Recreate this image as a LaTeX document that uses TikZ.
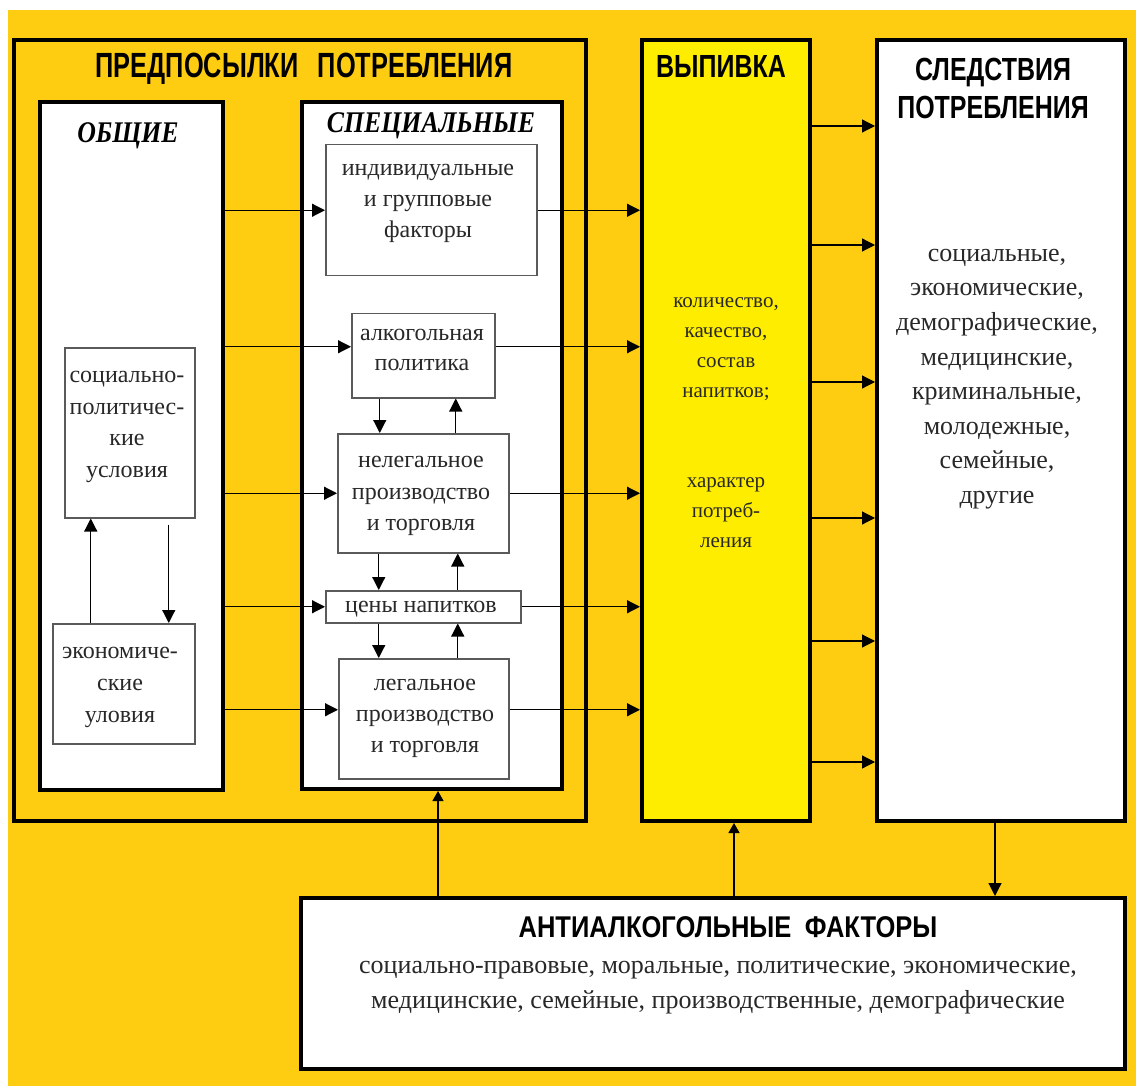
\documentclass[tikz,border=0pt]{standalone}
\usepackage{fontspec}
\setmainfont{Liberation Serif}
\newfontfamily\hfont[FakeStretch=0.78]{Liberation Sans}
\newfontfamily\tfont[FakeStretch=0.725]{Liberation Sans}
\newfontfamily\afont[FakeStretch=0.85]{Liberation Sans}
\newfontfamily\ifont[FakeStretch=0.86]{Liberation Serif}
\usetikzlibrary{arrows.meta}
\definecolor{bgyel}{RGB}{254,204,16}
\definecolor{vyel}{RGB}{255,237,0}
\definecolor{ibord}{RGB}{90,90,90}
\definecolor{tgray}{RGB}{40,40,40}
\newcommand\mytopstrut{\rule{0pt}{0.75em}}
\begin{document}
\begin{tikzpicture}[x=1pt,y=-1pt,
  tbox/.style={draw=black, line width=4pt, inner sep=0pt, anchor=north west},
  ibox/.style={draw=ibord, line width=1.5pt, fill=white, inner sep=0pt, anchor=north west},
  arr/.style={draw=black, line width=1.2pt, -{Triangle[length=13pt,width=13pt]}},
  sarr/.style={draw=black, line width=1.2pt, -{Triangle[length=10pt,width=11pt]}},
  txt/.style={anchor=north, align=center, inner sep=0pt, text=tgray},
  head/.style={anchor=base, inner sep=0pt, text=black},
  ]
\useasboundingbox (0,0) rectangle (1136,1086);
\fill[white] (0,0) rectangle (1136,1086);
\fill[bgyel] (8,10) rectangle (1136,1086);

% big frames
\node[tbox, minimum width=572pt, minimum height=781pt] (outer) at (12,38) {};
\node[tbox, fill=white, minimum width=183pt, minimum height=688pt] (obsh) at (38,100) {};
\node[tbox, fill=white, minimum width=260pt, minimum height=687pt] (spec) at (300,100) {};
\node[tbox, fill=vyel, minimum width=168pt, minimum height=781pt] (vyp) at (640,38) {};
\node[tbox, fill=white, minimum width=248pt, minimum height=781pt] (sled) at (875,38) {};
\node[tbox, fill=white, minimum width=824pt, minimum height=171pt] (anti) at (299,896) {};

% inner boxes
\node[ibox, minimum width=211pt, minimum height=131pt] (indiv) at (325,144) {};
\node[ibox, minimum width=143pt, minimum height=84pt] (alko) at (351,313) {};
\node[ibox, minimum width=171pt, minimum height=119pt] (neleg) at (337,433) {};
\node[ibox, minimum width=195pt, minimum height=32pt] (ceny) at (325,590) {};
\node[ibox, minimum width=170pt, minimum height=120pt] (leg) at (338,658) {};
\node[ibox, minimum width=130pt, minimum height=170pt] (socpol) at (64,347) {};
\node[ibox, minimum width=142pt, minimum height=120pt] (econ) at (52,623) {};

% offset connection points
\coordinate (alkoW) at ([yshift=9pt]alko.west);
\coordinate (alkoE) at ([yshift=9pt]alko.east);
\coordinate (legW) at ([yshift=9pt]leg.west);
\coordinate (legE) at ([yshift=9pt]leg.east);

% headings
\node[head, font=\tfont\bfseries\fontsize{35}{40}\selectfont] (tpred) at (304,78) {ПРЕДПОСЫЛКИ\hspace{0.55em}ПОТРЕБЛЕНИЯ};
\node[head, font=\ifont\bfseries\itshape\fontsize{30}{34}\selectfont] (tobsh) at (128,143) {ОБЩИЕ};
\node[head, font=\ifont\bfseries\itshape\fontsize{30}{34}\selectfont] (tspec) at (431,133) {СПЕЦИАЛЬНЫЕ};
\node[head, font=\hfont\bfseries\fontsize{32}{38}\selectfont] (tvyp) at (721,78) {ВЫПИВКА};
\node[txt, text=black, font=\hfont\bfseries\fontsize{32}{38}\selectfont] (tsled) at (993,56) {\mytopstrut СЛЕДСТВИЯ\\ПОТРЕБЛЕНИЯ};
\node[head, font=\afont\bfseries\fontsize{30}{34}\selectfont] (tanti) at (728,937) {АНТИАЛКОГОЛЬНЫЕ\hspace{0.45em}ФАКТОРЫ};

% body texts
\node[txt, font=\fontsize{24}{31}\selectfont] (xindiv) at (428,157.5) {\mytopstrut индивидуальные\\и групповые\\факторы};
\node[txt, font=\fontsize{24}{30}\selectfont] (xalko) at (422,322.5) {\mytopstrut алкогольная\\политика};
\node[txt, font=\fontsize{24}{31.5}\selectfont] (xneleg) at (421,449.5) {\mytopstrut нелегальное\\производство\\и торговля};
\node[txt, font=\fontsize{24}{31}\selectfont] (xceny) at (421,594.5) {\mytopstrut цены напитков};
\node[txt, font=\fontsize{24}{31}\selectfont] (xleg) at (425,672.5) {\mytopstrut легальное\\производство\\и торговля};
\node[txt, font=\fontsize{24}{31.5}\selectfont] (xsocpol) at (127,364.5) {\mytopstrut социально-\\политичес-\\кие\\условия};
\node[txt, font=\fontsize{24}{32}\selectfont] (xecon) at (120,640.5) {\mytopstrut экономиче-\\ские\\уловия};
\node[txt, font=\fontsize{21}{30}\selectfont] (xvyp1) at (726,292) {\mytopstrut количество,\\качество,\\состав\\напитков;};
\node[txt, font=\fontsize{21}{30}\selectfont] (xvyp2) at (726,472) {\mytopstrut характер\\потреб-\\ления};
\node[txt, font=\fontsize{26}{34.6}\selectfont] (xsled) at (997,241.5) {\mytopstrut социальные,\\экономические,\\демографические,\\медицинские,\\криминальные,\\молодежные,\\семейные,\\другие};
\node[txt, font=\fontsize{26}{35}\selectfont] (xanti) at (718,953.5) {\mytopstrut социально-правовые, моральные, политические, экономические,\\медицинские, семейные, производственные, демографические};

% horizontal arrows general -> special
\draw[arr] (obsh.east |- indiv.west) -- (indiv.west);
\draw[arr] (obsh.east |- alkoW) -- (alkoW);
\draw[arr] (obsh.east |- neleg.west) -- (neleg.west);
\draw[arr] (obsh.east |- ceny.west) -- (ceny.west);
\draw[arr] (obsh.east |- legW) -- (legW);

% special -> vypivka
\draw[arr] (indiv.east) -- (vyp.west |- indiv.east);
\draw[arr] (alkoE) -- (vyp.west |- alkoE);
\draw[arr] (neleg.east) -- (vyp.west |- neleg.east);
\draw[arr] (ceny.east) -- (vyp.west |- ceny.east);
\draw[arr] (legE) -- (vyp.west |- legE);

% vertical arrows inside special
\draw[arr] ([xshift=-43.5pt]alko.south) -- ([xshift=-43.5pt]alko.south |- neleg.north);
\draw[arr] ([xshift=32.5pt]alko.south |- neleg.north) -- ([xshift=32.5pt]alko.south);
\draw[arr] ([xshift=-44.5pt]neleg.south) -- ([xshift=-44.5pt]neleg.south |- ceny.north);
\draw[arr] ([xshift=34.5pt]neleg.south |- ceny.north) -- ([xshift=34.5pt]neleg.south);
\draw[arr] ([xshift=-44.5pt]ceny.south) -- ([xshift=-44.5pt]ceny.south |- leg.north);
\draw[arr] ([xshift=34.5pt]ceny.south |- leg.north) -- ([xshift=34.5pt]ceny.south);

% general: econ <-> socpol
\draw[arr] ([xshift=-33pt]econ.north) -- ([xshift=-33pt]econ.north |- socpol.south);
\draw[arr] ([xshift=39pt,yshift=-6pt]socpol.south) -- ([xshift=39pt]socpol.south |- econ.north);

% vypivka -> consequences
\foreach \yy in {126,245,382,518,641,762}
  \draw[arr] (vyp.east |- 0,\yy) -- (sled.west |- 0,\yy);

% anti-alcohol connections
\draw[sarr] ([xshift=-275pt]anti.north) -- ([xshift=-275pt]anti.north |- spec.south);
\draw[sarr] ([xshift=8pt]vyp.south |- anti.north) -- ([xshift=8pt]vyp.south);
\draw[arr] ([xshift=-6pt]sled.south) -- ([xshift=-6pt]sled.south |- anti.north);
\end{tikzpicture}
\end{document}
